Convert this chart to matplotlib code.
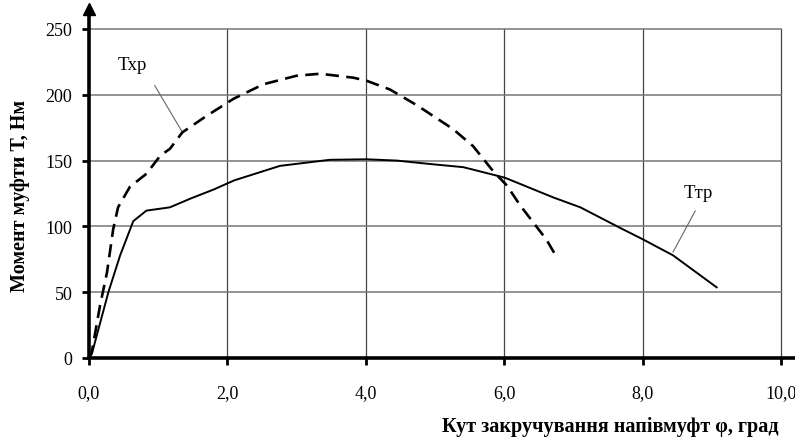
import matplotlib.pyplot as plt
from matplotlib.ticker import FuncFormatter

# Ттр (solid) curve
ttr_x = [0, 0.04, 0.28, 0.45, 0.64, 0.83, 1.17, 1.46, 1.80, 2.10, 2.76, 3.48, 4.01,
         4.45, 4.93, 5.41, 6.01, 6.71, 7.10, 7.67, 8.01, 8.44, 9.07]
ttr_y = [0, 3, 50, 78, 104, 112, 114.5, 121, 128, 135, 146, 150.6, 151,
         150, 147.4, 145, 137, 122, 114.5, 99, 90, 78, 53.7]

# Тхр (dashed) curve
txr_x = [0, 0.04, 0.16, 0.26, 0.35, 0.42, 0.59, 0.83, 1.03, 1.17, 1.35, 1.70, 2.09,
         2.52, 3.0, 3.34, 3.82, 4.01, 4.35, 4.74, 5.26, 5.55, 5.84, 6.04, 6.23,
         6.42, 6.61, 6.76]
txr_y = [0, 4.5, 40, 65, 98, 114.5, 130, 140, 153.7, 159, 171.5, 184, 197,
         208, 214.5, 216, 213, 210.7, 204, 192, 174, 161, 142, 131, 116,
         103, 90, 76.5]

x_ticks = [0, 2, 4, 6, 8, 10]
y_ticks = [0, 50, 100, 150, 200, 250]

plt.rcParams['font.family'] = 'Liberation Serif'

fig = plt.figure(figsize=(7.95, 4.39), dpi=100)
ax = fig.add_axes([89 / 795, 80 / 439, 706 / 795, 349 / 439])
ax.set_xlim(0, 706 / 69.2)
ax.set_ylim(0, 349 / 1.316)

# grid only inside the 0..10 x 0..250 box
for xv in x_ticks[1:]:
    ax.plot([xv, xv], [0, 250], color='#444444', lw=0.9, zorder=1)
for yv in y_ticks[1:]:
    ax.plot([0, 10], [yv, yv], color='#777777', lw=1.1, zorder=1)

ax.plot(ttr_x, ttr_y, color='black', lw=1.4, zorder=3)
ax.plot(txr_x, txr_y, color='black', lw=1.9, dashes=(5, 2.8), zorder=3)

# curve labels with leader lines
ax.text(0.62, 223, 'Тхр', fontsize=13.5, ha='center', va='center')
ax.plot([0.95, 1.35], [207, 171.5], color='#666666', lw=0.8)
ax.text(8.8, 126, 'Ттр', fontsize=13.5, ha='center', va='center')
ax.plot([8.76, 8.44], [111.7, 80.5], color='#666666', lw=0.8)

for s in ['top', 'right']:
    ax.spines[s].set_visible(False)
for s in ['left', 'bottom']:
    ax.spines[s].set_linewidth(2.6)
ax.plot(0, 1, marker='^', color='black', markersize=8,
        transform=ax.get_xaxis_transform(), clip_on=False)

ax.set_xticks(x_ticks)
ax.set_yticks(y_ticks)
ax.xaxis.set_major_formatter(FuncFormatter(lambda v, p: f'{v:.1f}'.replace('.', ',')))
ax.tick_params(axis='x', direction='out', length=5, width=2, pad=14, labelsize=13)
ax.tick_params(axis='y', direction='out', length=5, width=2, pad=7, labelsize=13)

fig.text(778 / 795, 1 - 427 / 439, 'Кут закручування напівмуфт φ, град',
         ha='right', va='center', fontsize=14.5, fontweight='bold')
fig.text(20 / 795, 1 - 196 / 439, 'Момент муфти Т, Нм', rotation=90,
         ha='center', va='center', fontsize=14.5, fontweight='bold')

fig.savefig('out.png', dpi=100)
